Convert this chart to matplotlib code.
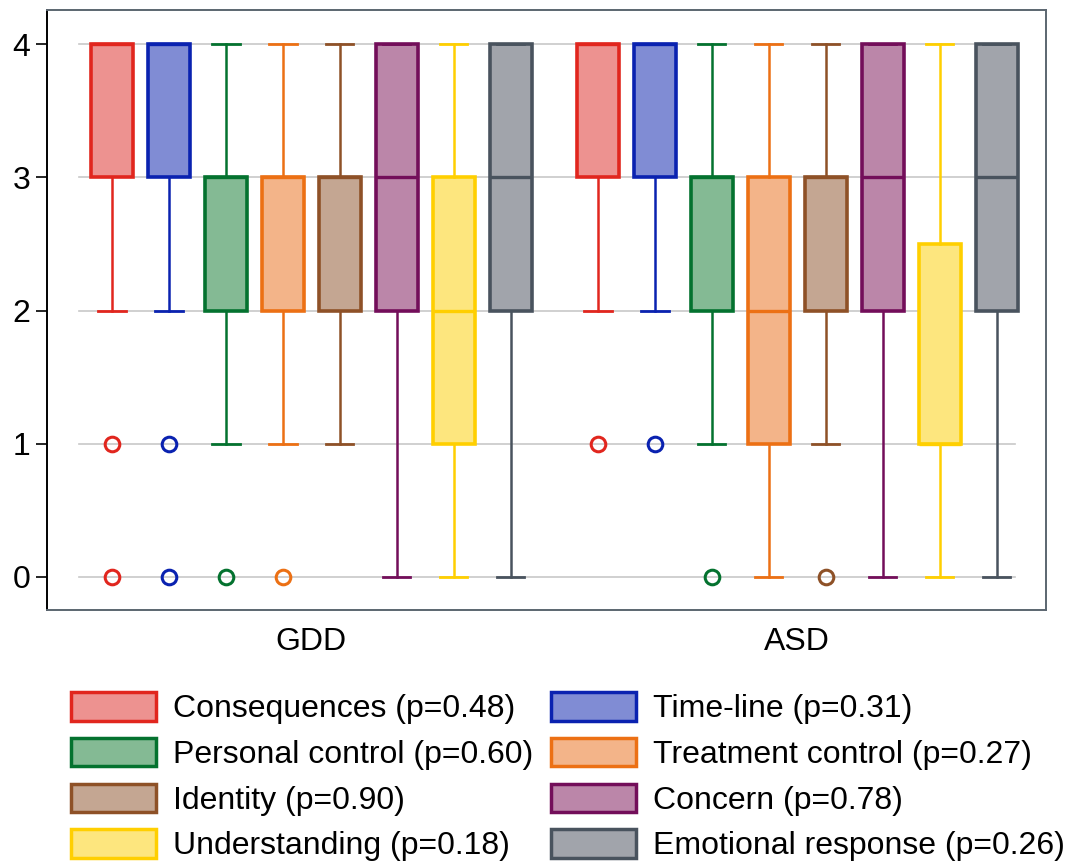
import matplotlib
matplotlib.use("Agg")
import matplotlib.pyplot as plt
from matplotlib.patches import Patch

plt.rcParams['font.family'] = ['Liberation Sans', 'DejaVu Sans']

# 데이터
groups = ['GDD', 'ASD']
items = ['Consequences', 'Time-line', 'Personal control', 'Treatment control',
         'Identity', 'Concern', 'Understanding', 'Emotional response']
p_values = ['0.48', '0.31', '0.60', '0.27', '0.90', '0.78', '0.18', '0.26']

edge_colors = ['#E1261E', '#0A22B0', '#04722F', '#EC7014',
               '#8E5127', '#730E5A', '#FFCF00', '#49535E']
fill_colors = ['#ED9290', '#808CD4', '#84BA94', '#F3B489',
               '#C4A692', '#BB86A9', '#FDE67E', '#A1A4AB']

# GDD
gdd_whislo = [2, 2, 1, 1, 1, 0, 0, 0]
gdd_q1 = [3, 3, 2, 2, 2, 2, 1, 2]
gdd_med = [4, 4, 3, 3, 3, 3, 2, 3]
gdd_q3 = [4, 4, 3, 3, 3, 4, 3, 4]
gdd_whishi = [4, 4, 4, 4, 4, 4, 4, 4]
gdd_fliers = [[1, 0], [1, 0], [0], [0], [], [], [], []]

# ASD
asd_whislo = [2, 2, 1, 0, 1, 0, 0, 0]
asd_q1 = [3, 3, 2, 1, 2, 2, 1, 2]
asd_med = [4, 4, 3, 2, 3, 3, 1, 3]
asd_q3 = [4, 4, 3, 3, 3, 4, 2.5, 4]
asd_whishi = [4, 4, 4, 4, 4, 4, 4, 4]
asd_fliers = [[1], [1], [0], [], [0], [], [], []]

group_stats = [
    (gdd_whislo, gdd_q1, gdd_med, gdd_q3, gdd_whishi, gdd_fliers),
    (asd_whislo, asd_q1, asd_med, asd_q3, asd_whishi, asd_fliers),
]
group_offset = [0, 8.53]

fig = plt.figure(figsize=(10.78, 8.61), dpi=100)
ax = fig.add_axes([0.0436, 0.2915, 0.9264, 0.6965])

# 격자선
for yv in range(5):
    ax.plot([-0.57, 15.85], [yv, yv], color='#C8C8C8', lw=1.2, zorder=0)

for g, (wlo, q1, med, q3, whi, fl) in enumerate(group_stats):
    for i in range(len(items)):
        st = dict(whislo=wlo[i], q1=q1[i], med=med[i], q3=q3[i],
                  whishi=whi[i], fliers=fl[i])
        c = edge_colors[i]
        ax.bxp([st], positions=[group_offset[g] + i], widths=0.74,
               capwidths=0.48, patch_artist=True, manage_ticks=False,
               boxprops=dict(facecolor=fill_colors[i], edgecolor=c, linewidth=2.6),
               medianprops=dict(color=c, linewidth=2.4),
               whiskerprops=dict(color=c, linewidth=1.8),
               capprops=dict(color=c, linewidth=2.0),
               flierprops=dict(marker='o', markerfacecolor='none',
                               markeredgecolor=c, markersize=10.5,
                               markeredgewidth=2.2),
               zorder=3)

ax.set_xlim(-1.14, 16.39)
ax.set_ylim(-0.25, 4.255)
ax.set_yticks([0, 1, 2, 3, 4])
ax.set_yticklabels(['0', '1', '2', '3', '4'], fontsize=23)
ax.set_xticks([group_offset[0] + 3.5, group_offset[1] + 3.5])
ax.set_xticklabels(groups, fontsize=23)
ax.tick_params(axis='x', length=0, pad=12)
ax.tick_params(axis='y', length=8, width=1.2, pad=4)

for s in ['top', 'right', 'bottom']:
    ax.spines[s].set_color('#5B6670')
    ax.spines[s].set_linewidth(1.4)
ax.spines['left'].set_color('black')
ax.spines['left'].set_linewidth(1.4)

# 범례 (2열, 행 우선 순서)
handles = [Patch(facecolor=fill_colors[i], edgecolor=edge_colors[i], linewidth=2.5,
                 label=f'{items[i]} (p={p_values[i]})') for i in range(len(items))]
order = [0, 2, 4, 6, 1, 3, 5, 7]
fig.legend([handles[k] for k in order], [handles[k].get_label() for k in order],
           loc='upper left', bbox_to_anchor=(0.066, 0.196), ncol=2,
           frameon=False, fontsize=23, borderpad=0, borderaxespad=0,
           handlelength=2.65, handleheight=1.0, handletextpad=0.55,
           columnspacing=0.55, labelspacing=0.42)

fig.savefig('out.png', dpi=100)
